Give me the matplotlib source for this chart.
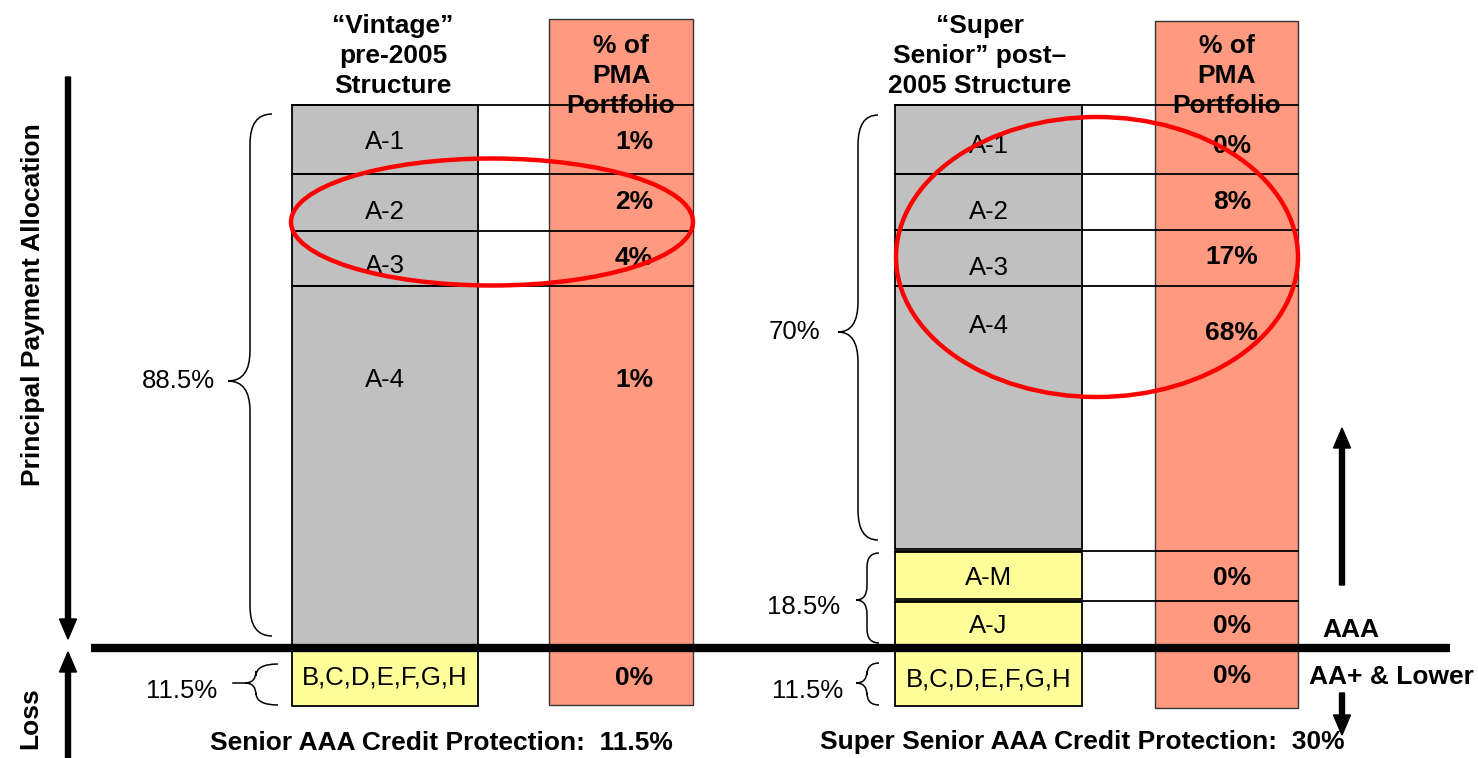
import matplotlib
matplotlib.use('Agg')
import matplotlib.pyplot as plt
from matplotlib.patches import Rectangle, Ellipse, PathPatch
from matplotlib.path import Path

plt.rcParams['font.family'] = ['Liberation Sans', 'DejaVu Sans']

# --- tranche data ---
vintage_tranches = ['A-1', 'A-2', 'A-3', 'A-4', 'B,C,D,E,F,G,H']
vintage_pma = [1, 2, 4, 1, 0]
vintage_groups = ['88.5%', '11.5%']

super_tranches = ['A-1', 'A-2', 'A-3', 'A-4', 'A-M', 'A-J', 'B,C,D,E,F,G,H']
super_pma = [0, 8, 17, 68, 0, 0, 0]
super_groups = ['70%', '18.5%', '11.5%']

vintage_title = '\u201cVintage\u201d\npre-2005\nStructure'
super_title = '\u201cSuper\nSenior\u201d post\u2013\n2005 Structure'
pma_header = '% of\nPMA\nPortfolio'
vintage_note = 'Senior AAA Credit Protection:  11.5%'
super_note = 'Super Senior AAA Credit Protection:  30%'

# --- layout (pixel units, y grows downward) ---
GREY, YELLOW, PINK = '#C0C0C0', '#FFFF99', '#FF9A80'
BOLD = dict(fontsize=19, fontweight='bold')
REG = dict(fontsize=18.5)

# rows: (top, bottom, label y, pct y, colour)
vintage_rows = [(105, 174, 142, 142, GREY), (174, 231, 212, 202, GREY),
                (231, 286, 266, 258, GREY), (286, 648, 380, 380, GREY),
                (648, 706, 678, 678, YELLOW)]
super_rows = [(105, 174, 146, 146, GREY), (174, 230, 212, 202, GREY),
              (230, 286, 268, 257, GREY), (286, 549, 326, 333, GREY),
              (552, 599, 578, 578, YELLOW), (602, 648, 626, 626, YELLOW),
              (648, 706, 680, 676, YELLOW)]

fig = plt.figure(figsize=(14.78, 7.58), dpi=100)
ax = fig.add_axes([0, 0, 1, 1])
ax.set_xlim(0, 1478)
ax.set_ylim(758, 0)
ax.axis('off')


def brace(x_tip, x_mid, x_end, y0, y1, y_tip, r):
    verts = [(x_end, y0), (x_mid, y0), (x_mid, y0 + r),
             (x_mid, y_tip - r),
             (x_mid, y_tip), (x_tip, y_tip),
             (x_mid, y_tip), (x_mid, y_tip + r),
             (x_mid, y1 - r),
             (x_mid, y1), (x_end, y1)]
    codes = [Path.MOVETO, Path.CURVE3, Path.CURVE3, Path.LINETO,
             Path.CURVE3, Path.CURVE3, Path.CURVE3, Path.CURVE3,
             Path.LINETO, Path.CURVE3, Path.CURVE3]
    ax.add_patch(PathPatch(Path(verts, codes), fill=False, lw=1.1, ec='black', zorder=3))


def structure(rows, names, pma, x0, x1, px0, px1, ptop, pbot, pct_x, lines):
    # % of PMA portfolio column
    ax.add_patch(Rectangle((px0, ptop), px1 - px0, pbot - ptop, fc=PINK,
                           ec='#333333', lw=1, zorder=1))
    ax.text((px0 + px1) / 2, 76, pma_header, ha='center', va='center',
            linespacing=1.3, zorder=2, **BOLD)
    for (top, bot, ly, py, col), name, v in zip(rows, names, pma):
        ax.add_patch(Rectangle((x0, top), x1 - x0, bot - top, fc=col,
                               ec='black', lw=1.3, zorder=1))
        ax.text((x0 + x1) / 2, ly, name, ha='center', va='center', zorder=2, **REG)
        ax.text(pct_x, py, f'{v}%', ha='center', va='center', zorder=2, **BOLD)
    for y in lines:
        ax.plot([x0, px1], [y, y], color='black', lw=1.3, zorder=4)


structure(vintage_rows, vintage_tranches, vintage_pma, 292, 478, 549, 693, 19, 705,
          634, [105, 174, 231, 286])
structure(super_rows, super_tranches, super_pma, 895, 1082, 1155, 1298, 21, 708,
          1232, [105, 174, 230, 286, 551, 601])

# titles above the tranche columns
ax.text(393, 56, vintage_title, ha='center', va='center', linespacing=1.3, **BOLD)
ax.text(980, 56, super_title, ha='center', va='center', linespacing=1.3, **BOLD)

# AAA boundary
ax.plot([91, 1450], [648, 648], color='black', lw=6, solid_capstyle='butt', zorder=5)
ax.text(1351, 630, 'AAA', ha='center', va='center', **BOLD)
ax.text(1391, 677, 'AA+ & Lower', ha='center', va='center', **BOLD)

# group braces and their shares
brace(228, 250, 272, 114, 636, 381, 30)
ax.text(178, 381, vintage_groups[0], ha='center', va='center', **REG)
brace(245, 256, 278, 664, 705, 683, 12)
ax.plot([233, 245], [683, 683], color='black', lw=1.1)
ax.text(182, 691, vintage_groups[1], ha='center', va='center', **REG)

brace(838, 858, 878, 115, 540, 332, 30)
ax.text(794, 332, super_groups[0], ha='center', va='center', **REG)
brace(856, 867, 879, 553, 643, 600, 14)
ax.text(804, 607, super_groups[1], ha='center', va='center', **REG)
brace(856, 867, 879, 663, 705, 683, 12)
ax.text(808, 691, super_groups[2], ha='center', va='center', **REG)

# highlight rings
ax.add_patch(Ellipse((492, 222), 402, 127, fill=False, ec='#FF0000', lw=3.2, zorder=6))
ax.add_patch(Ellipse((1097, 257), 402, 280, fill=False, ec='#FF0000', lw=3.2, zorder=6))

# cash-flow direction arrows
arrow = dict(width=5, head_width=17, head_length=20, length_includes_head=True,
             fc='black', ec='black', zorder=5)
ax.arrow(68, 77, 0, 639 - 77, **arrow)
ax.arrow(68, 775, 0, 652 - 775, **arrow)
ax.arrow(1342, 585, 0, 428 - 585, **arrow)
ax.arrow(1342, 693, 0, 735 - 693, **arrow)

ax.text(33, 305, 'Principal Payment Allocation', rotation=90, ha='center',
        va='center', **BOLD)
ax.text(30, 718, 'Loss', rotation=90, ha='center', va='center', **BOLD)

ax.text(441, 743, vintage_note, ha='center', va='center', **BOLD)
ax.text(1082, 742, super_note, ha='center', va='center', **BOLD)

fig.savefig('out.png', dpi=100)
